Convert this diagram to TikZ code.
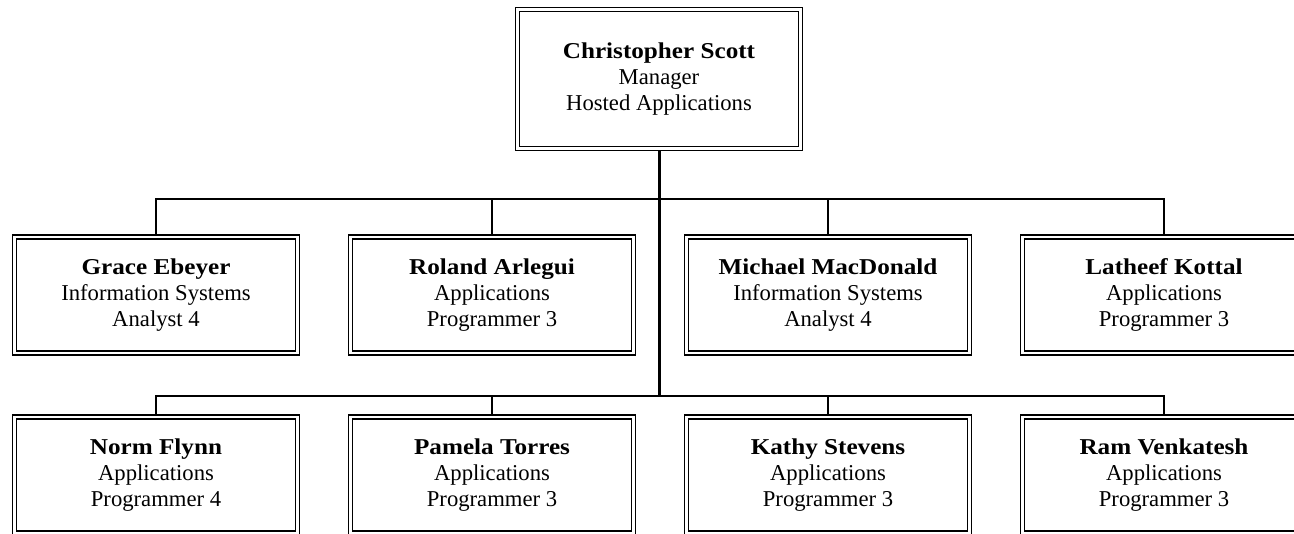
\documentclass[tikz,border=0pt]{standalone}
\usepackage{fontspec}
\setmainfont{Liberation Serif}[BoldFeatures={FakeStretch=1.11}]
\usetikzlibrary{backgrounds}

\begin{document}
\begin{tikzpicture}[x=0.75pt, y=-0.75pt,
  every node/.style={font=\fontsize{17}{19.5}\selectfont},
  person/.style={draw, double, line width=1.1pt, double distance=1.9pt, fill=white, align=center, inner sep=0pt, minimum width=212pt, minimum height=87pt},
  link/.style={line width=1.5pt},
  trunk/.style={line width=2.25pt}]
  \useasboundingbox (0,0) rectangle (1294,533);
  \clip (0,0) rectangle (1294,533);
  % manager
  \node[person, minimum height=104pt] (cs) at (659,79) {\textbf{Christopher Scott}\\Manager\\Hosted Applications};
  % first row
  \node[person] (ge) at (156,295) {\textbf{Grace Ebeyer}\\Information Systems\\Analyst 4};
  \node[person] (ra) at (492,295) {\textbf{Roland Arlegui}\\Applications\\Programmer 3};
  \node[person] (md) at (828,295) {\textbf{Michael MacDonald}\\Information Systems\\Analyst 4};
  \node[person] (lk) at (1164,295) {\textbf{Latheef Kottal}\\Applications\\Programmer 3};
  % second row
  \node[person] (nf) at (156,475) {\textbf{Norm Flynn}\\Applications\\Programmer 4};
  \node[person] (pt) at (492,475) {\textbf{Pamela Torres}\\Applications\\Programmer 3};
  \node[person] (ks) at (828,475) {\textbf{Kathy Stevens}\\Applications\\Programmer 3};
  \node[person] (rv) at (1164,475) {\textbf{Ram Venkatesh}\\Applications\\Programmer 3};
  \coordinate (busa) at (659,199);
  \coordinate (busb) at (659,396);
  \begin{scope}[on background layer]
    \draw[trunk] (cs.south) -- (busb);
    \draw[link] (ge.north) |- (busa) -| (lk.north);
    \draw[link] (ra.north) -- (ra.north |- busa);
    \draw[link] (md.north) -- (md.north |- busa);
    \draw[link] (nf.north) |- (busb) -| (rv.north);
    \draw[link] (pt.north) -- (pt.north |- busb);
    \draw[link] (ks.north) -- (ks.north |- busb);
  \end{scope}
\end{tikzpicture}
\end{document}
